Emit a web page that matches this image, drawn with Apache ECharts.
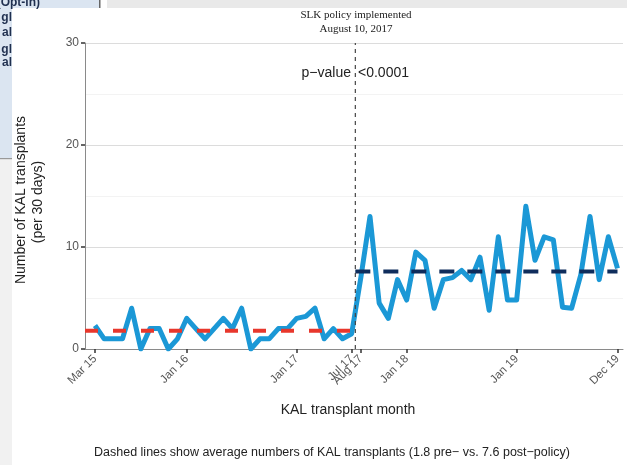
<!DOCTYPE html>
<html>
<head>
<meta charset="utf-8">
<script src="https://cdn.jsdelivr.net/npm/echarts@6/dist/echarts.min.js"></script>
<style>html,body{margin:0;padding:0;background:#fff}#c{width:627px;height:465px}</style>
</head>
<body>
<div id="c"></div>
<script>
// KAL transplants per 30 days, monthly from Mar 2015 (index 0) to Dec 2019 (index 57)
const kalTransplants = [2.3,1,1,1,4,0,2,2,0,1,3,2,1,2,3,2,4,0,1,1,2,2,3,3.2,4,1,2,1,1.5,
  7,13,4.5,3,6.8,4.8,9.5,8.7,4,6.8,7,7.7,6.8,9,3.8,11,4.8,4.8,14,8.7,11,10.7,4.1,4,7.3,13,6.8,11,7.9];
const tickLabels = ['Mar 15','Jan 16','Jan 17','Jul 17','Aug 17','Jan 18','Jan 19','Dec 19'];
const tickMonths = [0,10,22,28,29,34,46,57];
const yTicks = [0,10,20,30];
const preMean = 1.8;
const postMean = 7.6;
const policyMonth = 28.4;
const lastMonth = 57;
const axisMin = -1.09, axisMax = 57.6;

const chart = echarts.init(document.getElementById('c'), null, {renderer:'canvas'});
const sans = 'Liberation Sans, Arial, sans-serif';
const serif = 'Liberation Serif, Times New Roman, serif';

const option = {
  animation:false,
  backgroundColor:'#fff',
  grid:{left:85, top:43, right:4, bottom:116, outerBoundsMode:'none', containLabel:false},
  xAxis:{
    type:'value', min:axisMin, max:axisMax,
    axisLine:{show:true, onZero:false, lineStyle:{color:'#8a8a8a', width:1}},
    axisTick:{show:true, customValues:tickMonths, length:4, lineStyle:{color:'#333', width:1.5}},
    axisLabel:{customValues:tickMonths, rotate:45, margin:8, color:'#555', fontSize:11.5, fontFamily:sans,
      formatter:(v)=>{const k=tickMonths.indexOf(Math.round(v)); return k>=0?tickLabels[k]:'';}},
    splitLine:{show:false}
  },
  yAxis:{
    type:'value', min:0, max:30, interval:10,
    axisLine:{show:true, onZero:false, lineStyle:{color:'#8a8a8a', width:1}},
    axisTick:{show:true, length:4, lineStyle:{color:'#333', width:1.5}},
    axisLabel:{color:'#555', fontSize:12, fontFamily:sans, margin:6},
    splitLine:{show:true, lineStyle:{color:'#dcdcdc', width:1}},
    minorTick:{show:false, splitNumber:2},
    minorSplitLine:{show:true, lineStyle:{color:'#f3f3f3', width:1}}
  },
  series:[
    {type:'line', data:kalTransplants.map((v,i)=>[i,v]), symbol:'none', z:2,
      lineStyle:{color:'#1b98d6', width:5, join:'round'}},
    {type:'line', data:[[axisMin,preMean],[policyMonth,preMean]], symbol:'none', z:3,
      lineStyle:{color:'#e8372c', width:4, type:[13,15]}},
    {type:'line', data:[[policyMonth,postMean],[lastMonth,postMean]], symbol:'none', z:3,
      lineStyle:{color:'#0f2d5c', width:4, type:[15,13]}},
    {type:'line', data:[[policyMonth,0],[policyMonth,30]], symbol:'none', z:4,
      lineStyle:{color:'#444', width:1.2, type:[4,4]}}
  ],
  graphic:[
    // screenshot artifacts around the chart
    {type:'rect', shape:{x:107,y:0,width:520,height:8}, style:{fill:'#e9e9e9'}, silent:true},
    {type:'rect', shape:{x:0,y:0,width:100,height:8}, style:{fill:'#dbe5f1'}, silent:true},
    {type:'rect', shape:{x:99,y:0,width:1.5,height:8}, style:{fill:'#666'}, silent:true},
    {type:'rect', shape:{x:0,y:8,width:12,height:150}, style:{fill:'#dbe5f1'}, silent:true},
    {type:'rect', shape:{x:0,y:158,width:12,height:1.5}, style:{fill:'#999'}, silent:true},
    {type:'rect', shape:{x:0,y:159.5,width:12,height:306}, style:{fill:'#f1f1f1'}, silent:true},
    {type:'text', x:40, y:3, style:{text:'(Opt-in)', font:'bold 12px '+sans, fill:'#1f2f4f', align:'right', verticalAlign:'middle'}},
    {type:'text', x:12, y:18, style:{text:'gl', font:'bold 12px '+sans, fill:'#1f2f4f', align:'right', verticalAlign:'middle'}},
    {type:'text', x:12, y:33, style:{text:'al', font:'bold 12px '+sans, fill:'#1f2f4f', align:'right', verticalAlign:'middle'}},
    {type:'text', x:12, y:50, style:{text:'gl', font:'bold 12px '+sans, fill:'#1f2f4f', align:'right', verticalAlign:'middle'}},
    {type:'text', x:12, y:63, style:{text:'al', font:'bold 12px '+sans, fill:'#1f2f4f', align:'right', verticalAlign:'middle'}},
    // titles
    {type:'text', x:356, y:15, style:{text:'SLK policy implemented', font:'11px '+serif, fill:'#222', align:'center', verticalAlign:'middle'}},
    {type:'text', x:356, y:29, style:{text:'August 10, 2017', font:'11px '+serif, fill:'#222', align:'center', verticalAlign:'middle'}},
    {type:'text', x:351, y:73, style:{text:'p\u2212value', font:'14px '+sans, fill:'#222', align:'right', verticalAlign:'middle'}},
    {type:'text', x:358, y:73, style:{text:'<0.0001', font:'14px '+sans, fill:'#222', align:'left', verticalAlign:'middle'}},
    {type:'text', x:21, y:200, rotation:Math.PI/2, style:{text:'Number of KAL transplants', font:'14px '+sans, fill:'#222', align:'center', verticalAlign:'middle'}},
    {type:'text', x:38, y:202, rotation:Math.PI/2, style:{text:'(per 30 days)', font:'14px '+sans, fill:'#222', align:'center', verticalAlign:'middle'}},
    {type:'text', x:348, y:410, style:{text:'KAL transplant month', font:'14px '+sans, fill:'#222', align:'center', verticalAlign:'middle'}},
    {type:'text', x:332, y:453, style:{text:'Dashed lines show average numbers of KAL transplants (1.8 pre\u2212 vs. 7.6 post\u2212policy)', font:'12.5px '+sans, fill:'#222', align:'center', verticalAlign:'middle'}}
  ]
};
chart.setOption(option);
</script>
</body>
</html>
